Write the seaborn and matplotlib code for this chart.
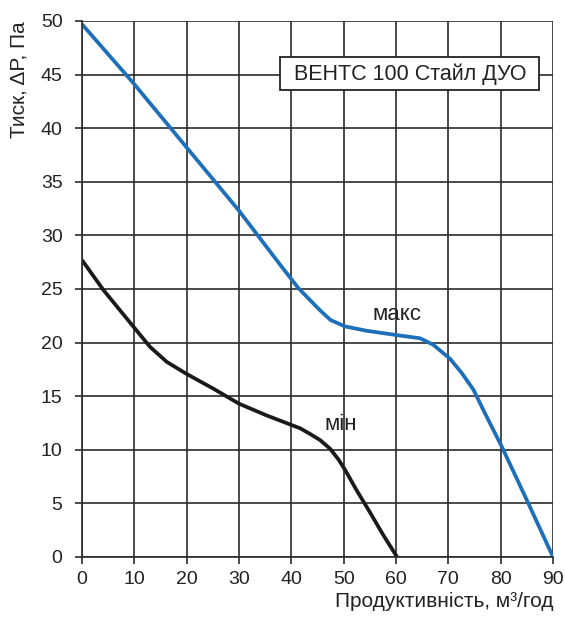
import matplotlib
matplotlib.use("Agg")
import matplotlib.pyplot as plt
from matplotlib.patches import Rectangle
import seaborn as sns
import pandas as pd

# Max speed curve
max_flow = [0, 10, 20, 30, 37.8, 41.3, 43.5, 45.5, 47.5, 50.3, 54.4, 60.1, 64.6, 67.1, 70.3, 72.5, 74.8, 77, 80.2, 85, 90]
max_pressure = [49.7, 44.1, 38.2, 32.3, 27.3, 25.1, 24.0, 23.0, 22.1, 21.5, 21.1, 20.7, 20.4, 19.8, 18.5, 17.2, 15.6, 13.4, 10.3, 5.3, 0.0]

# Min speed curve
min_flow = [0, 4.1, 9.8, 13, 16.2, 19.9, 25.1, 30, 35.3, 38.5, 41.7, 43.5, 45.5, 47.4, 49, 50.3, 52.5, 55.1, 57.5, 60.2]
min_pressure = [27.7, 24.9, 21.5, 19.6, 18.2, 17.1, 15.7, 14.3, 13.2, 12.6, 12.0, 11.5, 10.9, 10.1, 9.1, 8.1, 6.2, 4.1, 2.1, 0.0]

x_ticks = [0, 10, 20, 30, 40, 50, 60, 70, 80, 90]
y_ticks = [0, 5, 10, 15, 20, 25, 30, 35, 40, 45, 50]

title_text = "ВЕНТС 100 Стайл ДУО"
x_label = "Продуктивність, м³/год"
y_label = "Тиск, ΔP, Па"
max_label = "макс"
min_label = "мін"

sns.set_theme(style="white")
plt.rcParams['font.family'] = ['Liberation Sans', 'DejaVu Sans']

df = pd.concat([
    pd.DataFrame({"flow": max_flow, "pressure": max_pressure, "mode": "max"}),
    pd.DataFrame({"flow": min_flow, "pressure": min_pressure, "mode": "min"}),
])

fig = plt.figure(figsize=(5.65, 6.17), dpi=100)
ax = fig.add_axes([0.1451, 0.0973, 0.9788 - 0.1451, 0.966 - 0.0973])

grid_color = "#2b2b2b"
text_color = "#222222"
ax.set_xlim(0, 90)
ax.set_ylim(0, 50)
ax.set_xticks(x_ticks)
ax.set_yticks(y_ticks)
ax.grid(True, color=grid_color, linewidth=1.2)
ax.set_axisbelow(True)

sns.lineplot(data=df, x="flow", y="pressure", hue="mode",
             palette={"max": "#1c6fb8", "min": "#1a1a1a"},
             linewidth=2.7, sort=False, estimator=None, legend=False, ax=ax,
             solid_capstyle="butt", solid_joinstyle="round")

for s in ["top", "right"]:
    ax.spines[s].set_visible(False)
for s in ["left", "bottom"]:
    ax.spines[s].set_color(grid_color)
    ax.spines[s].set_linewidth(1.2)

ax.tick_params(axis="both", direction="out", length=5, width=1.2, color=grid_color,
               labelsize=14, labelcolor=text_color)
ax.tick_params(axis="y", pad=9)
ax.tick_params(axis="x", pad=5)
ax.tick_params(axis="both", which="both", left=True, bottom=True)

ax.set_xlabel(x_label, fontsize=15, color=text_color, loc="right", labelpad=3)
ax.set_ylabel(y_label, fontsize=15, color=text_color, loc="top", labelpad=9)

# title box
ax.add_patch(Rectangle((37.8, 43.6), 49.5, 3.05, facecolor="white", edgecolor=text_color,
                       linewidth=1.3, zorder=3))
ax.text(62.8, 45.05, title_text, fontsize=15.5, color=text_color, ha="center", va="center", zorder=4)
ax.text(60.1, 22.1, max_label, fontsize=16, color=text_color, ha="center", va="baseline")
ax.text(49.5, 11.85, min_label, fontsize=16, color=text_color, ha="center", va="baseline")

fig.savefig("out.png", dpi=100, facecolor="white")
